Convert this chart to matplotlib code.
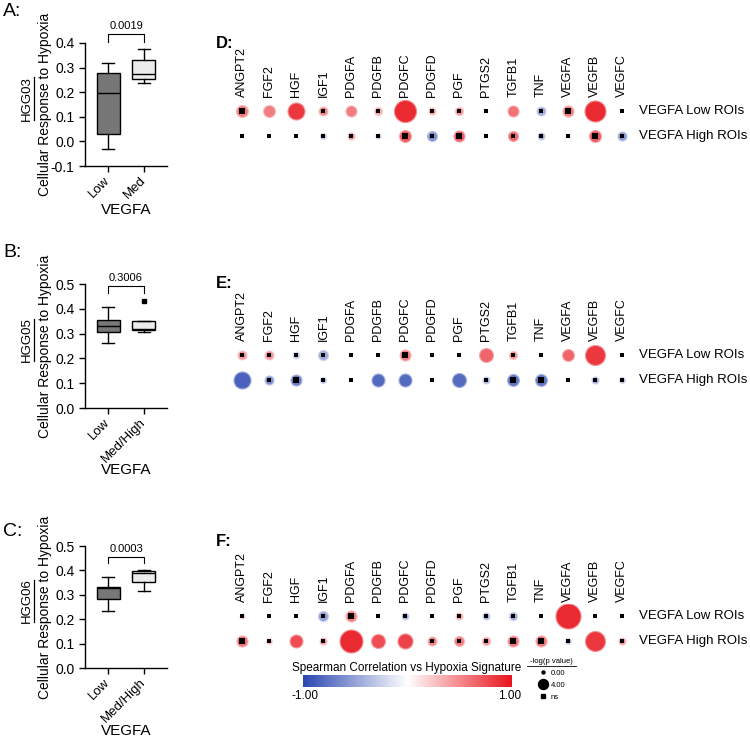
import matplotlib
matplotlib.use('Agg')
import matplotlib.pyplot as plt
from matplotlib.colors import LinearSegmentedColormap, Normalize
from matplotlib.colorbar import ColorbarBase
from matplotlib.lines import Line2D

plt.rcParams['font.family'] = ['Liberation Sans', 'DejaVu Sans']

W, H = 750, 740


def fx(px):
    return px / W


def fy(py):
    return 1 - py / H


# ---- box plot data (A-C) ----
hgg_ids = ['HGG03', 'HGG05', 'HGG06']
groups_A = ['Low', 'Med']
groups_BC = ['Low', 'Med/High']
p_labels = ['0.0019', '0.3006', '0.0003']
# (whislo, q1, med, q3, whishi)
stats_A = [(-0.032, 0.029, 0.198, 0.277, 0.318), (0.236, 0.254, 0.275, 0.332, 0.375)]
stats_B = [(0.264, 0.305, 0.330, 0.355, 0.408), (0.307, 0.314, 0.320, 0.352, 0.352)]
stats_C = [(0.234, 0.283, 0.326, 0.332, 0.371), (0.316, 0.353, 0.390, 0.397, 0.400)]
fliers_B = [[], [0.431]]
bracket_y = [0.437, 0.492, 0.455]
bracket_leg = [0.405, 0.464, 0.430]

# ---- dot plot data (D-F) ----
genes = ['ANGPT2', 'FGF2', 'HGF', 'IGF1', 'PDGFA', 'PDGFB', 'PDGFC', 'PDGFD',
         'PGF', 'PTGS2', 'TGFB1', 'TNF', 'VEGFA', 'VEGFB', 'VEGFC']
row_labels = ['VEGFA Low ROIs', 'VEGFA High ROIs']

# spearman r, -log(p), ns flag
d_low_r = [0.55, 0.55, 0.85, 0.5, 0.55, 0.35, 0.9, 0.4, 0.45, 0.05, 0.6, -0.45, 0.55, 0.9, 0.0]
d_low_p = [5.1, 5.1, 8.0, 3.4, 4.6, 2.9, 10.9, 2.3, 2.9, 1.1, 4.6, 3.4, 4.6, 10.3, 1.1]
d_low_ns = [1, 0, 0, 1, 0, 1, 0, 1, 1, 1, 0, 1, 1, 0, 1]
d_high_r = [0.0, 0.0, 0.0, -0.35, 0.45, -0.3, 0.7, -0.6, 0.7, 0.0, 0.65, -0.45, 0.05, 0.7, -0.55]
d_high_p = [1.1, 1.1, 1.1, 1.7, 2.3, 1.4, 5.1, 4.0, 4.6, 1.1, 4.0, 2.3, 1.1, 5.1, 3.4]
d_high_ns = [1, 1, 1, 1, 1, 1, 1, 1, 1, 1, 1, 1, 1, 1, 1]

e_low_r = [0.45, 0.45, -0.3, -0.45, 0.0, 0.0, 0.55, 0.0, 0.0, 0.65, 0.45, 0.0, 0.65, 0.85, 0.0]
e_low_p = [3.4, 3.4, 2.3, 4.0, 1.1, 0.6, 4.6, 1.1, 0.9, 6.3, 2.9, 0.6, 5.1, 9.7, 1.7]
e_low_ns = [1, 1, 1, 1, 1, 1, 1, 1, 1, 0, 1, 1, 0, 0, 1]
e_high_r = [-0.85, -0.6, -0.7, -0.4, 0.0, -0.8, -0.8, 0.0, -0.8, -0.4, -0.75, -0.75, 0.0, -0.45, -0.35]
e_high_p = [8.0, 3.4, 4.6, 1.7, 1.1, 5.7, 5.7, 1.1, 6.3, 2.3, 5.1, 5.1, 1.1, 2.3, 1.7]
e_high_ns = [0, 1, 1, 1, 1, 0, 0, 1, 0, 1, 1, 1, 1, 1, 1]

f_low_r = [0.3, 0.0, 0.0, -0.5, 0.55, 0.0, -0.4, 0.0, 0.4, -0.4, -0.45, 0.0, 0.9, 0.0, 0.0]
f_low_p = [1.1, 1.1, 1.1, 4.0, 4.6, 0.9, 2.3, 1.1, 2.3, 2.3, 2.9, 0.9, 12.6, 0.9, 0.9]
f_low_ns = [1, 1, 1, 1, 1, 1, 1, 1, 1, 1, 1, 1, 0, 1, 1]
f_high_r = [0.6, 0.3, 0.75, 0.45, 0.9, 0.75, 0.8, 0.55, 0.55, 0.45, 0.6, 0.6, -0.35, 0.85, 0.45]
f_high_p = [4.6, 1.7, 5.7, 2.3, 11.4, 6.3, 6.9, 3.4, 4.0, 2.9, 4.6, 4.6, 1.7, 9.7, 2.3]
f_high_ns = [1, 1, 0, 1, 0, 0, 0, 1, 1, 1, 1, 1, 1, 0, 1]

cmap = LinearSegmentedColormap.from_list('bwr_sp', ['#2b47b0', '#ffffff', '#e8141c'])
norm = Normalize(-1, 1)

fig = plt.figure(figsize=(7.5, 7.4), dpi=100)


def lighten(c, f=0.5):
    return tuple(1 - (1 - v) * f for v in c[:3])


# ---- box panels ----
box_panels = [
    ('A:', 12, (43, 166), (-0.1, 0.4), stats_A, [[], []], groups_A, 210),
    ('B:', 252, (284, 408), (0.0, 0.5), stats_B, fliers_B, groups_BC, 470),
    ('C:', 531, (546, 668), (0.0, 0.5), stats_C, [[], []], groups_BC, 731),
]
hgg_texts = []
for k, (letter, ly, (ytop, ybot), ylim, stats, fl, groups, xl_y) in enumerate(box_panels):
    ax = fig.add_axes([fx(85), fy(ybot), fx(167) - fx(85), (ybot - ytop) / H])
    bstats = []
    for (wl, q1, med, q3, wh), f in zip(stats, fl):
        bstats.append(dict(whislo=wl, q1=q1, med=med, q3=q3, whishi=wh, fliers=f))
    bp = ax.bxp(bstats, positions=[1, 2], widths=0.64, patch_artist=True,
                showfliers=True,
                boxprops=dict(linewidth=1, edgecolor='black'),
                medianprops=dict(color='black', linewidth=1),
                whiskerprops=dict(linewidth=1),
                capprops=dict(linewidth=1),
                capwidths=0.36,
                flierprops=dict(marker='s', markersize=3, markerfacecolor='black',
                                markeredgecolor='black'))
    bp['boxes'][0].set_facecolor('#777777')
    bp['boxes'][1].set_facecolor('#ececec')
    ax.set_xlim(0.36, 2.64)
    ax.set_ylim(*ylim)
    ticks = [round(ylim[0] + 0.1 * i, 1) for i in range(6)]
    ax.set_yticks(ticks)
    ax.set_yticklabels([f'{t:.1f}' for t in ticks], fontsize=10)
    ax.set_xticks([1, 2])
    ax.set_xticklabels(groups, rotation=45, ha='right', va='center',
                       rotation_mode='anchor', fontsize=9.5)
    ax.tick_params(length=4, width=1)
    ax.tick_params(axis='x', pad=5)
    for s in ['top', 'right']:
        ax.spines[s].set_visible(False)
    ax.spines['left'].set_linewidth(1)
    ax.spines['bottom'].set_linewidth(1)
    # significance bracket
    ax.plot([1, 1, 2, 2], [bracket_leg[k], bracket_y[k], bracket_y[k], bracket_leg[k]],
            color='black', linewidth=0.8, clip_on=False)
    ax.text(1.5, bracket_y[k] + 0.012, p_labels[k], ha='center', va='bottom', fontsize=8)
    yc = (ytop + ybot) / 2
    fig.text(fx(45), fy(yc), 'Cellular Response to Hypoxia', rotation=90,
             ha='center', va='center', fontsize=10)
    t = fig.text(fx(27), fy(yc - 6), hgg_ids[k], rotation=90, ha='center', va='center',
                 fontsize=9.5)
    hgg_texts.append(t)
    fig.text(fx(126), fy(xl_y), 'VEGFA', ha='center', va='center', fontsize=11)
    fig.text(fx(3), fy(ly), letter, ha='left', va='center', fontsize=14)

# ---- dot panels ----
dot_panels = [
    ('D:', 44, 111, (d_low_r, d_low_p, d_low_ns), (d_high_r, d_high_p, d_high_ns)),
    ('E:', 283, 355, (e_low_r, e_low_p, e_low_ns), (e_high_r, e_high_p, e_high_ns)),
    ('F:', 542, 616, (f_low_r, f_low_p, f_low_ns), (f_high_r, f_high_p, f_high_ns)),
]
step = (622 - 242) / 14
for letter, ly, row0, low, high in dot_panels:
    left = 242 - step / 2
    ax = fig.add_axes([fx(left), fy(row0 + 37.5), 15 * step / W, 50 / H])
    ax.set_xlim(-0.5, 14.5)
    ax.set_ylim(1.5, -0.5)
    ax.axis('off')
    for row, (rv, pv, nsv) in enumerate([low, high]):
        for i in range(len(genes)):
            d = 3 + 1.75 * pv[i]
            col = cmap(norm(rv[i]))
            ax.scatter(i, row, s=(d * 0.72) ** 2, color=col,
                       edgecolors=[lighten(col, 0.55)], linewidths=0.8, zorder=2)
            if nsv[i]:
                sq = max(3.2, 0.5 * d)
                ax.scatter(i, row, s=(sq * 0.72) ** 2, marker='s', color='black',
                           linewidths=0, zorder=3)
        ax.text(14.63, row, row_labels[row], ha='left', va='center', fontsize=9.5,
                clip_on=False)
    for i, g in enumerate(genes):
        ax.text(i, -0.56, g, rotation=90, ha='center', va='bottom', fontsize=9,
                clip_on=False)
    fig.text(fx(216), fy(ly), letter, ha='left', va='center', fontsize=12,
             fontweight='bold')

# ---- colour bar ----
cax = fig.add_axes([fx(303), fy(687), (512 - 303) / W, 12 / H])
cb = ColorbarBase(cax, cmap=cmap, norm=norm, orientation='horizontal')
cb.outline.set_visible(False)
cb.set_ticks([])
fig.text(fx(407), fy(668), 'Spearman Correlation vs Hypoxia Signature', ha='center',
         va='center', fontsize=8.5)
fig.text(fx(305), fy(696), '-1.00', ha='center', va='center', fontsize=8.5)
fig.text(fx(510), fy(696), '1.00', ha='center', va='center', fontsize=8.5)

# ---- size legend ----
handles = [
    Line2D([], [], linestyle='', marker='o', markersize=3 * 0.72, color='black'),
    Line2D([], [], linestyle='', marker='o', markersize=10 * 0.72, color='black'),
    Line2D([], [], linestyle='', marker='s', markersize=3.2 * 0.72, color='black'),
]
leg = fig.legend(handles, ['0.00', '4.00', 'ns'], title='-log(p value)',
                 loc='upper left', bbox_to_anchor=(fx(530), fy(658)), frameon=False,
                 fontsize=5.5, title_fontsize=5.5, handletextpad=0.3, labelspacing=0.6,
                 borderaxespad=0, borderpad=0, handlelength=1.5)

fig.canvas.draw()
inv = fig.transFigure.inverted()
# underline HGG ids
for t in hgg_texts:
    bb = t.get_window_extent()
    (x0, y0), (x1, y1) = inv.transform([(bb.x1 + 1, bb.y0 + 1), (bb.x1 + 1, bb.y1 - 1)])
    fig.add_artist(Line2D([x0, x0], [y0, y1], color='black', linewidth=0.9,
                          transform=fig.transFigure))
# underline legend title
tb = leg.get_title().get_window_extent()
(x0, y0), (x1, y1) = inv.transform([(tb.x0 - 3, tb.y0 - 1), (tb.x1 + 3, tb.y0 - 1)])
fig.add_artist(Line2D([x0, x1], [y0, y0], color='black', linewidth=0.6,
                      transform=fig.transFigure))

fig.savefig('out.png', dpi=100)
